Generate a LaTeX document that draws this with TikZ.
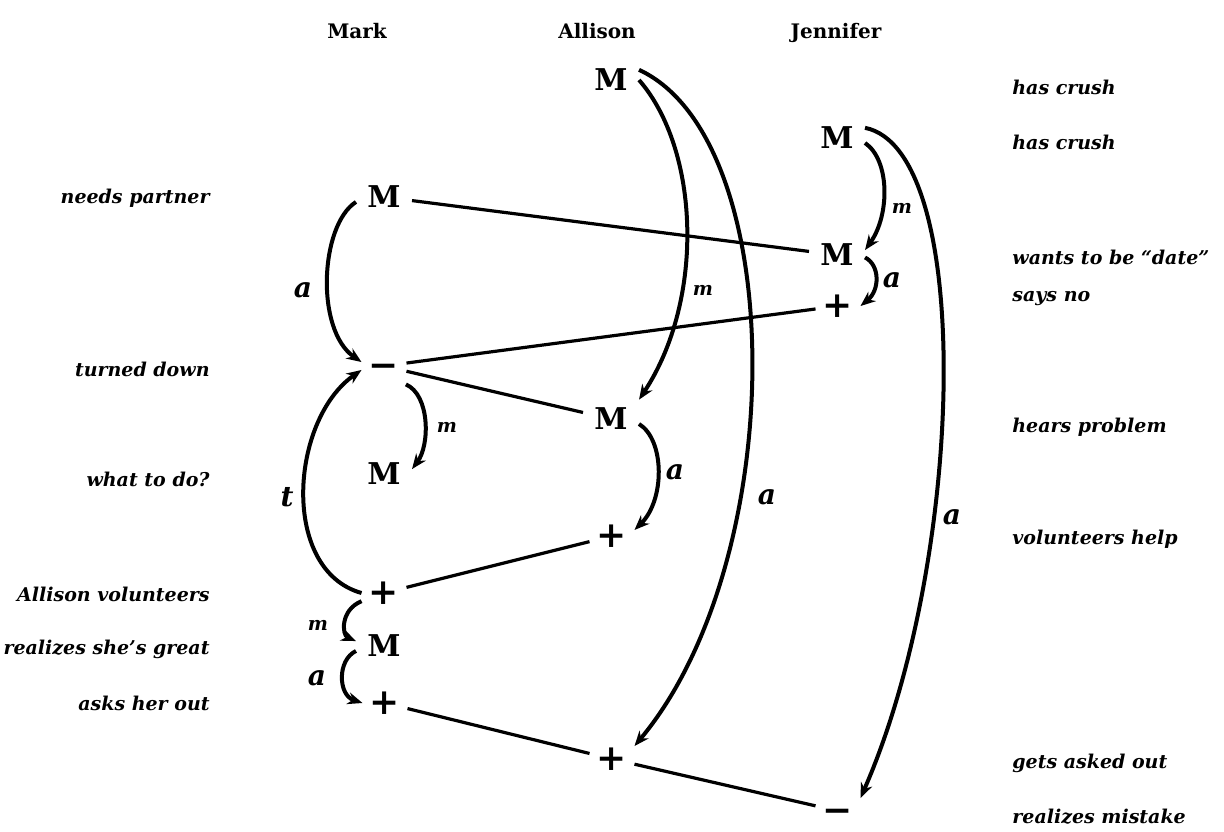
\documentclass[tikz,border=0pt]{standalone}
\usepackage{fontspec}
\setmainfont{DejaVu Serif}
\usepackage{tikz}
\usetikzlibrary{arrows.meta}
\tikzset{
  hd/.style  = {font=\fontsize{10}{12}\selectfont\bfseries, inner sep=0pt, anchor=base},
  st/.style  = {font=\fontsize{15}{17}\selectfont\bfseries, inner xsep=5.5pt, inner ysep=4pt},
  pm/.style  = {font=\fontsize{18}{20}\selectfont\bfseries, inner xsep=3.5pt, inner ysep=3.5pt,
                text height=11pt, text depth=0pt},
  lbl/.style = {font=\fontsize{9.5}{11}\selectfont\bfseries\itshape, inner sep=0pt},
  el/.style  = {font=\fontsize{14}{16}\selectfont\bfseries\itshape, inner sep=0pt},
  elm/.style = {font=\fontsize{9.5}{11}\selectfont\bfseries\itshape, inner sep=0pt},
  ed/.style  = {-{Stealth[length=7.5pt,width=6pt]}, line width=2pt},
  ln/.style  = {line width=1.6pt},
}

\begin{document}
\begin{tikzpicture}[x=0.5pt,y=-0.5pt]
  \useasboundingbox (0,0) rectangle (1224,831);

  % --- column heads
  \node[hd] (hmk) at (357,38) {Mark};
  \node[hd] (hal) at (597,38) {Allison};
  \node[hd] (hjn) at (836,38) {Jennifer};

  % --- states
  \node[st] (al1) at (611,80)  {M};
  \node[st] (jn1) at (837,138) {M};
  \node[st] (mk1) at (384,197) {M};
  \node[st] (jn2) at (837,255) {M};
  \node[pm] (jn3) at (838,306) {+};
  \node[pm] (mk2) at (384,366) {−};
  \node[st] (al2) at (611,419) {M};
  \node[st] (mk3) at (384,474) {M};
  \node[pm] (al3) at (612,536) {+};
  \node[pm] (mk4) at (384,593) {+};
  \node[st] (mk5) at (384,646) {M};
  \node[pm] (mk6) at (385,703) {+};
  \node[pm] (al4) at (612,759) {+};
  \node[pm, inner ysep=1pt] (jn4) at (838,811) {−};

  % --- left texts
  \node[lbl, anchor=east] (tl1) at (210,198) {needs partner};
  \node[lbl, anchor=east] (tl2) at (210,369) {turned down};
  \node[lbl, anchor=east] (tl3) at (210,479) {what to do?};
  \node[lbl, anchor=east] (tl4) at (210,594) {Allison volunteers};
  \node[lbl, anchor=east] (tl5) at (210,649) {realizes she's great};
  \node[lbl, anchor=east] (tl6) at (210,703) {asks her out};

  % --- right texts
  \node[lbl, anchor=west] (tr1) at (1012,87)  {has crush};
  \node[lbl, anchor=west] (tr2) at (1012,142) {has crush};
  \node[lbl, anchor=west] (tr3) at (1012,257) {wants to be “date”};
  \node[lbl, anchor=west] (tr4) at (1012,299) {says no};
  \node[lbl, anchor=west] (tr5) at (1012,427) {hears problem};
  \node[lbl, anchor=west] (tr6) at (1012,539) {volunteers help};
  \node[lbl, anchor=west] (tr7) at (1012,763) {gets asked out};
  \node[lbl, anchor=west] (tr8) at (1012,817) {realizes mistake};

  % --- plain links
  \draw[ln] (mk1) -- (jn2);
  \draw[ln] (mk2) -- (jn3);
  \draw[ln] (mk2) -- (al2);
  \draw[ln] (mk4) -- (al3);
  \draw[ln] (mk6) -- (al4);
  \draw[ln] (al4) -- (jn4);

  % --- arrows
  \draw[ed] (al1.east) .. controls (700,150) and (705,300) .. (al2.north east);
  \draw[ed] (al1.20) .. controls (790,140) and (790,560) .. (al4.30);
  \draw[ed] (jn1.-10) .. controls (890,160) and (890,215) .. (jn2.10);
  \draw[ed] (jn1.20) .. controls (975,150) and (965,560) .. (jn4.30);
  \draw[ed] (jn2.-5) .. controls (880,265) and (880,290) .. (jn3.east);
  \draw[ed] (mk1.190) .. controls (320,225) and (315,330) .. (mk2.170);
  \draw[ed] (mk2.-40) .. controls (430,395) and (430,445) .. (mk3.10);
  \draw[ed] (mk4.west) .. controls (280,570) and (290,420) .. (mk2.190);
  \draw[ed] (mk4.200) .. controls (340,610) and (342,635) .. (mk5.170);
  \draw[ed] (mk5.190) .. controls (337,660) and (338,695) .. (mk6.west);
  \draw[ed] (al2.-10) .. controls (665,440) and (665,500) .. (al3.15);

  % --- arrow letters
  \node[elm] (lm1) at (703,290) {m};
  \node[el]  (la1) at (767,497) {a};
  \node[elm] (lm2) at (902,208) {m};
  \node[el]  (la2) at (952,517) {a};
  \node[el]  (la3) at (892,280) {a};
  \node[el]  (la4) at (303,290) {a};
  \node[elm] (lm3) at (447,427) {m};
  \node[el]  (lt1) at (287,497) {t};
  \node[el]  (la5) at (675,472) {a};
  \node[elm] (lm4) at (318,625) {m};
  \node[el]  (la6) at (317,678) {a};
\end{tikzpicture}
\end{document}
